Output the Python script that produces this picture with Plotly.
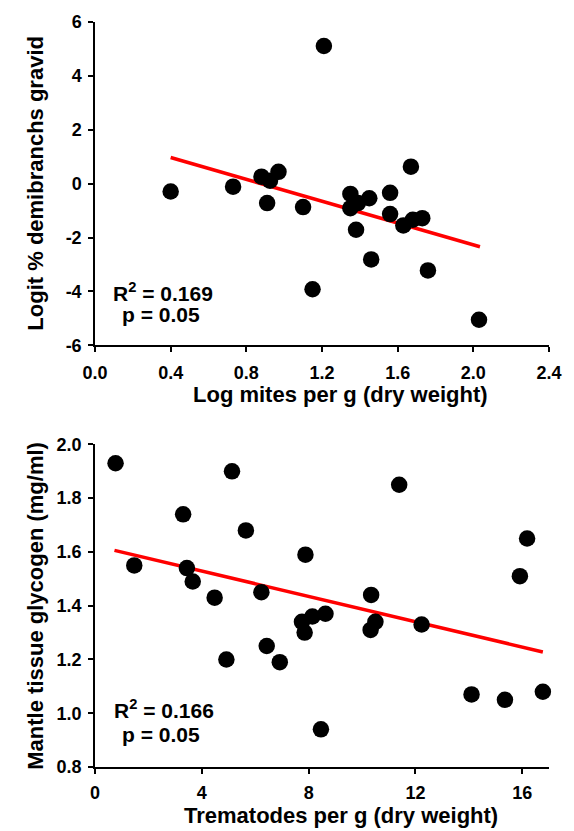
import plotly.graph_objects as go
from plotly.subplots import make_subplots

# --- top panel: mites vs gravid demibranchs
mites_x = [0.40, 0.73, 0.88, 0.925, 0.97, 0.91, 1.21, 1.67, 1.56, 1.35, 1.45, 1.10,
           1.35, 1.39, 1.56, 1.63, 1.68, 1.73, 1.38, 1.46, 1.76, 1.15, 2.03]
gravid_y = [-0.29, -0.11, 0.26, 0.11, 0.44, -0.72, 5.11, 0.63, -0.34, -0.38, -0.54, -0.87,
            -0.91, -0.72, -1.13, -1.55, -1.34, -1.28, -1.71, -2.81, -3.22, -3.92, -5.05]
mites_fit_x = [0.40, 2.035]
mites_fit_y = [0.97, -2.34]
mites_ticks = [0.0, 0.4, 0.8, 1.2, 1.6, 2.0, 2.4]
gravid_ticks = [-6, -4, -2, 0, 2, 4, 6]

# --- bottom panel: trematodes vs glycogen
trem_x = [0.77, 1.47, 3.30, 3.44, 3.66, 4.48, 5.13, 5.65, 6.23, 11.39, 7.88, 10.34, 16.18, 15.91,
          7.75, 8.14, 8.63, 10.50, 12.23, 10.32, 7.85, 6.92, 8.46, 14.10, 15.35, 16.77, 4.92, 6.43]
glyc_y = [1.93, 1.55, 1.74, 1.54, 1.49, 1.43, 1.90, 1.68, 1.45, 1.85, 1.59, 1.44, 1.65, 1.51,
          1.34, 1.36, 1.37, 1.34, 1.33, 1.31, 1.30, 1.19, 0.94, 1.07, 1.05, 1.08, 1.20, 1.25]
trem_fit_x = [0.73, 16.77]
trem_fit_y = [1.606, 1.228]
trem_ticks = [0, 4, 8, 12, 16]
glyc_ticks = [0.8, 1.0, 1.2, 1.4, 1.6, 1.8, 2.0]

FONT = "Liberation Sans, Arial, sans-serif"

fig = make_subplots(rows=2, cols=1, vertical_spacing=0.133)
fig.update_layout(yaxis=dict(domain=[0.566, 1.0]), yaxis2=dict(domain=[0.0, 0.433]))

for row, (fx, fy, px_, py_) in enumerate([(mites_fit_x, mites_fit_y, mites_x, gravid_y),
                                           (trem_fit_x, trem_fit_y, trem_x, glyc_y)], start=1):
    fig.add_trace(go.Scatter(x=fx, y=fy, mode="lines",
                             line=dict(color="#ff0000", width=3.5), showlegend=False),
                  row=row, col=1)
    fig.add_trace(go.Scatter(x=px_, y=py_, mode="markers",
                             marker=dict(color="black", size=16.5), showlegend=False,
                             cliponaxis=False),
                  row=row, col=1)

axis_common = dict(showgrid=False, zeroline=False, showline=True, linecolor="black",
                   linewidth=1.5, ticks="outside", ticklen=5, tickwidth=1.5, tickcolor="black",
                   tickfont=dict(family=FONT, size=18, color="black", weight="bold"))

fig.update_xaxes(axis_common)
fig.update_yaxes(axis_common)
fig.update_xaxes(range=[0, 2.4], tickvals=mites_ticks, ticktext=[f"{v:.1f}" for v in mites_ticks],
                 ticklabelstandoff=5, row=1, col=1)
fig.update_yaxes(range=[-6, 6], tickvals=gravid_ticks, ticktext=[str(v) for v in gravid_ticks],
                 ticklabelstandoff=3, row=1, col=1)
fig.update_xaxes(range=[0, 17], tickvals=trem_ticks, ticktext=[str(v) for v in trem_ticks],
                 ticklabelstandoff=4, row=2, col=1)
fig.update_yaxes(range=[0.8, 2.0], tickvals=glyc_ticks, ticktext=[f"{v:.1f}" for v in glyc_ticks],
                 ticklabelstandoff=3, row=2, col=1)

title_font = dict(family=FONT, size=22, color="black", weight="bold")
stat_font = dict(family=FONT, size=21, color="black", weight="bold")

# axis titles
fig.add_annotation(text="Log mites per g (dry weight)", xref="x domain", yref="y domain",
                   x=0.541, y=0, yshift=-49, showarrow=False, yanchor="middle", font=title_font)
fig.add_annotation(text="Logit % demibranchs gravid", xref="x domain", yref="y domain",
                   x=0, y=0.5, xshift=-59, textangle=-90, showarrow=False, xanchor="center",
                   font=title_font)
fig.add_annotation(text="Trematodes per g (dry weight)", xref="x2 domain", yref="y2 domain",
                   x=0.541, y=0, yshift=-48, showarrow=False, yanchor="middle", font=title_font)
fig.add_annotation(text="Mantle tissue glycogen (mg/ml)", xref="x2 domain", yref="y2 domain",
                   x=0, y=0.5, xshift=-59, textangle=-90, showarrow=False, xanchor="center",
                   font=title_font)

# statistics
fig.add_annotation(text="R<sup>2</sup> = 0.169", x=0.359, y=-4.03, xref="x", yref="y",
                   showarrow=False, font=stat_font)
fig.add_annotation(text="p = 0.05", x=0.349, y=-4.87, xref="x", yref="y",
                   showarrow=False, font=stat_font)
fig.add_annotation(text="R<sup>2</sup> = 0.166", x=2.6, y=1.0155, xref="x2", yref="y2",
                   showarrow=False, font=stat_font)
fig.add_annotation(text="p = 0.05", x=2.47, y=0.92, xref="x2", yref="y2",
                   showarrow=False, font=stat_font)

fig.update_layout(width=574, height=831, margin=dict(l=95, r=15, t=16, b=64),
                  plot_bgcolor="white", paper_bgcolor="white")

# page body has an 8px default margin; drop it so the figure sits at 0,0
fig.write_html("out.html", config={"displayModeBar": False},
               post_script="document.body.style.margin='0';")
